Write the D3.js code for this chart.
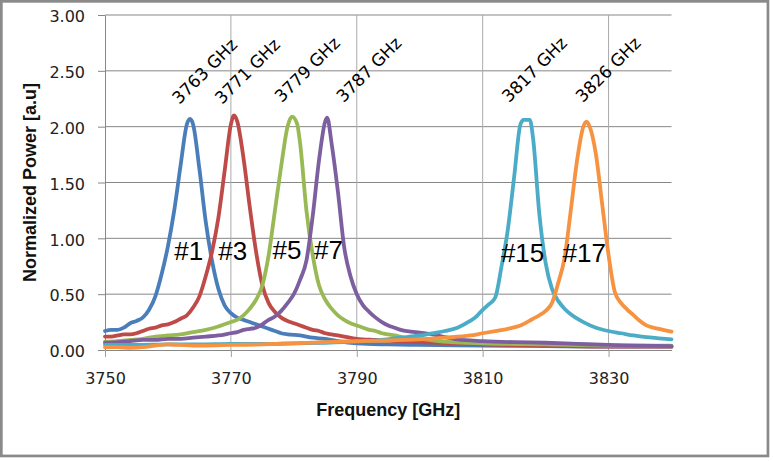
<!DOCTYPE html>
<html>
<head>
<meta charset="utf-8">
<script src="https://d3js.org/d3.v7.min.js"></script>
<style>
  body { margin: 0; background: #fff; }
  svg { display: block; }
</style>
</head>
<body>
<div class="graph-pane"></div>
<script>
// frequency / power pairs, one array per resonator
const ch1 = [[3750,0.17],[3751,0.18],[3752,0.18],[3753,0.20],[3754,0.24],[3755,0.26],[3756,0.29],[3757,0.36],[3758,0.48],[3759,0.68],[3760,0.93],[3761,1.25],[3762,1.65],[3763,2.02],[3763.5,2.07],[3764,2.02],[3765,1.62],[3766,1.15],[3767,0.80],[3768,0.55],[3769,0.40],[3770,0.33],[3771,0.29],[3772,0.27],[3773,0.25],[3774,0.23],[3775,0.21],[3776,0.19],[3777,0.17],[3778,0.15],[3779,0.14],[3781,0.13],[3783,0.11],[3785,0.10],[3787,0.08],[3790,0.06],[3795,0.05],[3800,0.045],[3810,0.04],[3820,0.035],[3830,0.03],[3840,0.03]];
const ch3 = [[3750,0.12],[3751,0.12],[3752,0.13],[3753,0.14],[3754,0.14],[3755,0.15],[3756,0.17],[3757,0.19],[3758,0.20],[3759,0.22],[3760,0.23],[3761,0.25],[3762,0.28],[3763,0.31],[3764,0.38],[3765,0.48],[3766,0.66],[3767,0.88],[3768,1.18],[3769,1.60],[3770,2.02],[3770.5,2.10],[3771,2.05],[3772,1.72],[3773,1.28],[3774,0.88],[3775,0.58],[3776,0.42],[3777,0.34],[3778,0.29],[3779,0.26],[3780,0.24],[3781,0.22],[3782,0.20],[3783,0.18],[3784,0.17],[3785,0.15],[3786,0.14],[3787,0.13],[3788,0.12],[3790,0.10],[3793,0.09],[3796,0.08],[3800,0.07],[3805,0.06],[3810,0.05],[3820,0.04],[3830,0.03],[3840,0.03]];
const ch5 = [[3750,0.075],[3752,0.08],[3754,0.09],[3756,0.10],[3758,0.12],[3760,0.13],[3762,0.14],[3764,0.16],[3766,0.18],[3768,0.21],[3769,0.23],[3770,0.25],[3771,0.27],[3772,0.31],[3773,0.37],[3774,0.45],[3775,0.58],[3776,0.85],[3777,1.25],[3778,1.65],[3779,2.00],[3779.7,2.09],[3780.5,2.03],[3781,1.85],[3782,1.25],[3783,0.85],[3784,0.58],[3785,0.45],[3786,0.37],[3787,0.31],[3788,0.27],[3789,0.24],[3790,0.22],[3791,0.20],[3792,0.18],[3793,0.17],[3794,0.15],[3795,0.14],[3796,0.13],[3798,0.11],[3800,0.10],[3805,0.07],[3810,0.06],[3820,0.05],[3830,0.04],[3840,0.04]];
const ch7 = [[3750,0.065],[3752,0.07],[3754,0.08],[3756,0.09],[3758,0.09],[3760,0.10],[3762,0.10],[3764,0.11],[3766,0.12],[3768,0.13],[3770,0.15],[3771,0.16],[3772,0.18],[3773,0.19],[3774,0.20],[3775,0.23],[3776,0.27],[3777,0.30],[3778,0.35],[3779,0.42],[3780,0.50],[3781,0.63],[3782,0.80],[3783,1.20],[3784,1.70],[3785,2.05],[3785.3,2.08],[3786,1.85],[3787,1.42],[3788,0.92],[3789,0.66],[3790,0.50],[3791,0.40],[3792,0.34],[3793,0.29],[3794,0.25],[3795,0.22],[3796,0.20],[3797,0.18],[3798,0.17],[3800,0.155],[3802,0.14],[3804,0.115],[3806,0.095],[3810,0.08],[3815,0.07],[3820,0.065],[3825,0.055],[3830,0.045],[3835,0.04],[3840,0.035]];
const ch15 = [[3750,0.045],[3755,0.045],[3760,0.05],[3765,0.05],[3770,0.055],[3775,0.055],[3780,0.06],[3785,0.065],[3790,0.075],[3794,0.09],[3797,0.11],[3800,0.13],[3802,0.15],[3804,0.17],[3806,0.20],[3808,0.26],[3809,0.30],[3810,0.36],[3811,0.41],[3812,0.47],[3813,0.75],[3814,1.08],[3815,1.55],[3816,2.02],[3816.5,2.06],[3817.5,2.06],[3818,1.90],[3819,1.22],[3820,0.78],[3821,0.55],[3822,0.44],[3823,0.37],[3824,0.32],[3826,0.25],[3828,0.20],[3830,0.17],[3832,0.15],[3834,0.13],[3836,0.115],[3838,0.105],[3840,0.095]];
const ch17 = [[3750,0.025],[3752,0.025],[3754,0.02],[3756,0.025],[3758,0.04],[3760,0.05],[3762,0.045],[3764,0.04],[3766,0.04],[3770,0.045],[3775,0.05],[3780,0.06],[3785,0.07],[3790,0.08],[3795,0.085],[3800,0.095],[3804,0.11],[3808,0.13],[3810,0.15],[3812,0.17],[3814,0.19],[3816,0.22],[3818,0.28],[3819,0.31],[3820,0.35],[3821,0.42],[3822,0.60],[3823,0.82],[3824,1.25],[3825,1.70],[3826,2.00],[3826.5,2.045],[3827,2.00],[3828,1.75],[3829,1.30],[3830,0.85],[3831,0.52],[3832,0.42],[3833,0.36],[3834,0.31],[3835,0.26],[3836,0.22],[3838,0.19],[3840,0.165]];

const seriesData = [ch1, ch3, ch5, ch7, ch15, ch17];
const seriesColors = ['#4a7ebb', '#be4b48', '#98b954', '#7d5fa0', '#4aacc6', '#f69240'];

// resonator number labels and peak frequency labels
const numberLabels = ['#1', '#3', '#5', '#7', '#15', '#17'];
const numberLabelFreq = [3761.0, 3768.0, 3776.6, 3783.2, 3812.9, 3822.7];
const numberLabelValue = [0.805, 0.805, 0.815, 0.815, 0.785, 0.785];
const freqLabels = ['3763 GHz', '3771 GHz', '3779 GHz', '3787 GHz', '3817 GHz', '3826 GHz'];
const freqLabelFreq = [3761.8, 3768.6, 3778.1, 3787.9, 3814.2, 3825.9];
const freqLabelValue = [2.195, 2.195, 2.21, 2.21, 2.21, 2.21];

const xTicks = [3750, 3770, 3790, 3810, 3830];
const yTicks = [0, 0.5, 1, 1.5, 2, 2.5, 3];

const W = 773, H = 461;
const plotLeft = 105, plotRight = 671.5, plotTop = 15, plotBottom = 350;

const x = d3.scaleLinear().domain([3750, 3840]).range([plotLeft, plotRight]);
const y = d3.scaleLinear().domain([0, 3]).range([plotBottom, plotTop]);

const svg = d3.select('.graph-pane')
  .append('svg')
  .attr('width', W)
  .attr('height', H);

svg.append('rect')
  .attr('x', 1.35).attr('y', 1.35)
  .attr('width', 766.6).attr('height', 454.6)
  .attr('fill', '#fff')
  .attr('stroke', '#8a8a8a')
  .attr('stroke-width', 2.7);

// horizontal gridlines
svg.append('g')
  .selectAll('line')
  .data(yTicks.filter(d => d > 0))
  .join('line')
  .attr('x1', plotLeft).attr('x2', plotRight)
  .attr('y1', d => y(d)).attr('y2', d => y(d))
  .attr('stroke', '#878787')
  .attr('stroke-width', 1);

// vertical gridlines
svg.append('g')
  .selectAll('line')
  .data(xTicks.slice(1))
  .join('line')
  .attr('x1', d => x(d)).attr('x2', d => x(d))
  .attr('y1', plotTop).attr('y2', plotBottom)
  .attr('stroke', '#ababab')
  .attr('stroke-width', 1);

// y axis
const yAxis = d3.axisLeft(y)
  .tickValues(yTicks)
  .tickFormat(d3.format('.2f'))
  .tickSize(7)
  .tickSizeOuter(0)
  .tickPadding(13);

const gy = svg.append('g')
  .attr('transform', 'translate(' + plotLeft + ',0)')
  .call(yAxis);
gy.select('.domain').attr('stroke', '#878787');
gy.selectAll('.tick line').attr('stroke', '#878787');
gy.selectAll('.tick text')
  .attr('dy', '0.42em')
  .attr('fill', '#222')
  .style('font', '16px "DejaVu Sans"');

// x axis
const xAxis = d3.axisBottom(x)
  .tickValues(xTicks)
  .tickFormat(d3.format('d'))
  .tickSize(7)
  .tickSizeOuter(0)
  .tickPadding(16);

const gx = svg.append('g')
  .attr('transform', 'translate(0,' + plotBottom + ')')
  .call(xAxis);
gx.select('.domain').attr('stroke', '#878787');
gx.selectAll('.tick line').attr('stroke', '#a0a0a0');
gx.selectAll('.tick text')
  .attr('fill', '#222')
  .style('font', '16px "DejaVu Sans"');

// axis titles
svg.append('text')
  .attr('x', (plotLeft + plotRight) / 2)
  .attr('y', 416)
  .attr('text-anchor', 'middle')
  .style('font', 'bold 18px "Liberation Sans"')
  .attr('fill', '#111')
  .text('Frequency [GHz]');

svg.append('text')
  .attr('transform', 'translate(36,' + ((plotTop + plotBottom) / 2) + ') rotate(-90)')
  .attr('text-anchor', 'middle')
  .style('font', 'bold 18px "Liberation Sans"')
  .attr('fill', '#111')
  .text('Normalized Power [a.u]');

// spectra
const line = d3.line()
  .x(d => x(d[0]))
  .y(d => y(d[1]))
  .curve(d3.curveMonotoneX);

svg.append('g')
  .selectAll('path')
  .data(seriesData)
  .join('path')
  .attr('d', d => line(d))
  .attr('fill', 'none')
  .attr('stroke', (d, i) => seriesColors[i])
  .attr('stroke-width', 3.8)
  .attr('stroke-linejoin', 'round')
  .attr('stroke-linecap', 'round');

// frequency labels, tilted
svg.append('g')
  .selectAll('text')
  .data(freqLabels)
  .join('text')
  .attr('transform', (d, i) => 'translate(' + x(freqLabelFreq[i]) + ',' + y(freqLabelValue[i]) + ') rotate(-45)')
  .style('font', '17px "DejaVu Sans"')
  .attr('fill', '#000')
  .text(d => d);

// resonator numbers
svg.append('g')
  .selectAll('text')
  .data(numberLabels)
  .join('text')
  .attr('x', (d, i) => x(numberLabelFreq[i]))
  .attr('y', (d, i) => y(numberLabelValue[i]))
  .style('font', '26px "Liberation Sans"')
  .attr('fill', '#000')
  .text(d => d);
</script>
</body>
</html>
